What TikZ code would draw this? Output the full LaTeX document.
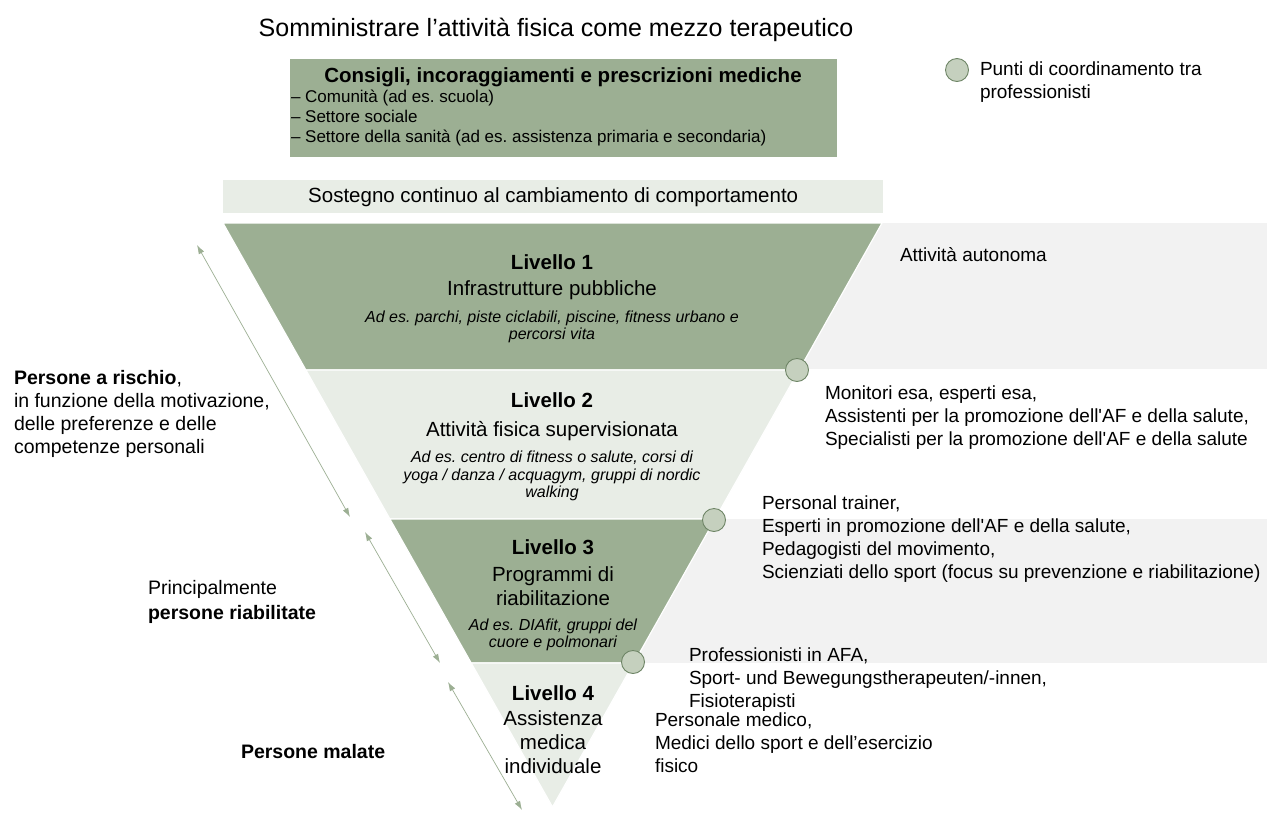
\documentclass[tikz,border=0pt]{standalone}
\usepackage{fontspec}
\setmainfont{Liberation Sans}[Ligatures=TeXOff]
\usetikzlibrary{arrows.meta}
\definecolor{sage}{HTML}{9CAF93}
\definecolor{sagelight}{HTML}{E8EDE6}
\definecolor{panelgray}{HTML}{F2F2F2}
\definecolor{dotfill}{HTML}{C5D0BE}
\definecolor{dotline}{HTML}{6E8566}
\newcommand{\myfs}[2]{\fontsize{#1}{#2}\selectfont}
\frenchspacing
\begin{document}
\begin{tikzpicture}[x=1pt,y=-1pt,
  txt/.style={inner sep=0pt, outer sep=0pt, text=black},
  lvltitle/.style={txt, font=\myfs{20.5}{24}\bfseries},
  lvlsub/.style={txt, align=center, font=\myfs{20.5}{24}},
  lvlex/.style={txt, align=center, font=\myfs{16}{17.5}\itshape},
  side/.style={txt, align=left, anchor=west, font=\myfs{19}{23}},
  dot/.style={circle, minimum size=23pt, inner sep=0pt, fill=dotfill, draw=dotline, line width=0.9pt},
  dark/.style={fill=sage, draw=white, line width=1.2pt},
  light/.style={fill=sagelight, draw=white, line width=1.2pt},
  rangearrow/.style={draw=sage, line width=0.7pt, {Latex[length=9pt,width=6pt]}-{Latex[length=9pt,width=6pt]}},
]
\useasboundingbox (0,0) rectangle (1267,812);
\fill[white] (0,0) rectangle (1267,812);

% title
\node[txt, font=\myfs{25}{29}] (title) at (556,30) {Somministrare l’attività fisica come mezzo terapeutico};

% top box
\node[fill=sage, minimum width=547pt, minimum height=98pt, inner sep=0pt, anchor=north west] (box) at (290,59) {};
\node[txt, font=\myfs{20.5}{24}\bfseries] (boxt) at (563,77) {Consigli, incoraggiamenti e prescrizioni mediche};
\node[side, font=\myfs{17}{20}] (boxl) at (291,118) {– Comunità (ad es. scuola)\\– Settore sociale\\– Settore della sanità (ad es. assistenza primaria e secondaria)};

% legend
\node[dot] (leg) at (957,70) {};
\node[side] (legt) at (980,82) {Punti di coordinamento tra\\professionisti};

% sostegno band
\node[fill=sagelight, minimum width=660pt, minimum height=33pt, inner sep=0pt, anchor=north west, font=\myfs{20.5}{24}] (band) at (223,180) {Sostegno continuo al cambiamento di comportamento};

% right panels
\fill[panelgray] (760,223) rectangle (1267,369);
\fill[panelgray] (600,519) rectangle (1267,663);

% funnel levels
\path[dark]  (223,223) -- (882,223) -- (799.1,370) -- (305.9,370) -- cycle;
\path[light] (305.9,370) -- (799.1,370) -- (715.1,519) -- (389.9,519) -- cycle;
\path[dark]  (389.9,519) -- (715.1,519) -- (633.8,663) -- (471.2,663) -- cycle;
\path[light] (471.2,663) -- (633.8,663) -- (552.5,807) -- cycle;

% coordination dots
\node[dot] (c1) at (797,370) {};
\node[dot] (c2) at (714,520) {};
\node[dot] (c3) at (633,662) {};

% level texts
\node[lvltitle] (l1a) at (552,262) {Livello 1};
\node[lvlsub] (l1b) at (552,290) {Infrastrutture pubbliche};
\node[lvlex] (l1c) at (552,327) {Ad es. parchi, piste ciclabili, piscine, fitness urbano e\\percorsi vita};

\node[lvltitle] (l2a) at (552,400) {Livello 2};
\node[lvlsub] (l2b) at (552,431) {Attività fisica supervisionata};
\node[lvlex] (l2c) at (552,476) {Ad es. centro di fitness o salute, corsi di\\yoga / danza / acquagym, gruppi di nordic\\walking};

\node[lvltitle] (l3a) at (553,547) {Livello 3};
\node[lvlsub] (l3b) at (553,586) {Programmi di\\riabilitazione};
\node[lvlex] (l3c) at (553,635) {Ad es. DIAfit, gruppi del\\cuore e polmonari};

\node[lvltitle] (l4a) at (553,693) {Livello 4};
\node[lvlsub] (l4b) at (553,742) {Assistenza\\medica\\individuale};

% right texts
\node[side] (r1) at (900,255) {Attività autonoma};
\node[side] (r2) at (825,418) {Monitori esa, esperti esa,\\Assistenti per la promozione dell'AF e della salute,\\Specialisti per la promozione dell'AF e della salute};
\node[side] (r3) at (762,539) {Personal trainer,\\Esperti in promozione dell'AF e della salute,\\Pedagogisti del movimento,\\Scienziati dello sport (focus su prevenzione e riabilitazione)};
\node[side] (r4) at (689,680) {Professionisti in AFA,\\Sport- und Bewegungstherapeuten/-innen,\\Fisioterapisti};
\node[side] (r5) at (655,743) {Personale medico,\\Medici dello sport e dell’esercizio\\fisico};

% left texts
\node[side, font=\myfs{19.5}{23}] (g1) at (14,414) {\textbf{Persone a rischio},\\in funzione della motivazione,\\delle preferenze e delle\\competenze personali};
\node[side, font=\myfs{19.5}{25}] (g2) at (148,602) {Principalmente\\\textbf{persone riabilitate}};
\node[side, font=\myfs{19.5}{23}\bfseries] (g3) at (241,752) {Persone malate};

% range arrows
\coordinate (a1s) at (197,245);
\coordinate (a1e) at (350,517);
\coordinate (a2s) at (365,532);
\coordinate (a2e) at (440,663);
\coordinate (a3s) at (448,682);
\coordinate (a3e) at (522,810);
\draw[rangearrow] (a1s) -- (a1e);
\draw[rangearrow] (a2s) -- (a2e);
\draw[rangearrow] (a3s) -- (a3e);
\end{tikzpicture}
\end{document}
